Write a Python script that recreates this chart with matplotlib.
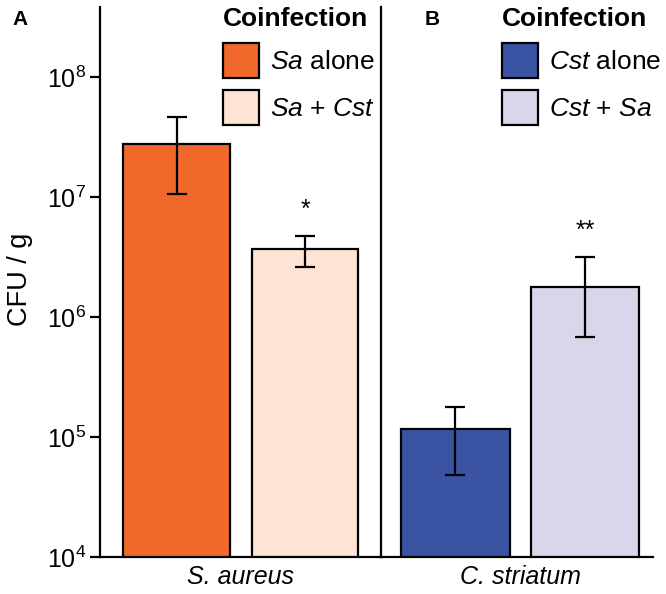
import matplotlib
matplotlib.use("Agg")
import matplotlib.pyplot as plt
import numpy as np

plt.rcParams['font.family'] = ['Liberation Sans', 'DejaVu Sans']
plt.rcParams['mathtext.fontset'] = 'custom'
plt.rcParams['mathtext.rm'] = 'Liberation Sans'
plt.rcParams['mathtext.it'] = 'Liberation Sans:italic'
plt.rcParams['mathtext.bf'] = 'Liberation Sans:bold'

# ---- data ----
panel_letters = ['A', 'B']
organisms = ['S. aureus', 'C. striatum']
legend_title = 'Coinfection'
sa_labels = [r'$\mathit{Sa}$ alone', r'$\mathit{Sa}$ + $\mathit{Cst}$']
cst_labels = [r'$\mathit{Cst}$ alone', r'$\mathit{Cst}$ + $\mathit{Sa}$']
sa_mean = np.array([2.76e7, 3.69e6])
sa_low = np.array([1.06e7, 2.60e6])
sa_high = np.array([4.60e7, 4.76e6])
cst_mean = np.array([1.17e5, 1.77e6])
cst_low = np.array([4.82e4, 6.86e5])
cst_high = np.array([1.79e5, 3.18e6])
sa_sig = ['', '*']
cst_sig = ['', '**']
ytick_vals = [1e4, 1e5, 1e6, 1e7, 1e8]

sa_colors = ['#F1692A', '#FDE4D5']
cst_colors = ['#3A53A3', '#D7D6EA']

W, H = 666, 594
fig = plt.figure(figsize=(W / 100, H / 100), dpi=100)
axA = fig.add_axes([100 / W, 37 / H, 281 / W, 550 / H])
axB = fig.add_axes([381 / W, 37 / H, 272 / W, 550 / H], sharey=axA)

def draw(ax, means, lo, hi, colors, labels, sig, org, xlim, width, leg_x):
    ax.set_yscale('log')
    x = np.arange(len(means))
    yerr = np.vstack([means - lo, hi - means])
    handles = []
    for i in range(len(means)):
        b = ax.bar(x[i], means[i], width=width, color=colors[i],
                   edgecolor='black', linewidth=1.6, zorder=2)
        handles.append(b[0])
    ax.errorbar(x, means, yerr=yerr, fmt='none', ecolor='black',
                elinewidth=1.6, capsize=7, capthick=1.6, zorder=3)
    for i in range(len(means)):
        if sig[i]:
            ax.annotate(sig[i], (x[i], hi[i]), xytext=(0, 10),
                        textcoords='offset points', ha='center', va='bottom',
                        fontsize=18)
    ax.set_xlim(*xlim)
    ax.set_xticks([0.5])
    ax.set_xticklabels([org], fontstyle='italic', fontsize=18)
    ax.tick_params(axis='x', length=0, pad=6)
    for s in ['top', 'right']:
        ax.spines[s].set_visible(False)
    for s in ['left', 'bottom']:
        ax.spines[s].set_linewidth(1.6)
    leg = ax.legend(handles, labels, title=legend_title,
                    loc='upper left', bbox_to_anchor=(leg_x / W, 1 - 7 / H),
                    bbox_transform=fig.transFigure, frameon=False,
                    fontsize=19, title_fontsize=19, borderpad=0,
                    handlelength=1.38, handleheight=1.66, labelspacing=0.45,
                    handletextpad=0.4, alignment='left', borderaxespad=0)
    leg.get_title().set_fontweight('bold')
    return ax

draw(axA, sa_mean, sa_low, sa_high, sa_colors, sa_labels, sa_sig, organisms[0],
     (-0.595, 1.59), 0.83, 223)
draw(axB, cst_mean, cst_low, cst_high, cst_colors, cst_labels, cst_sig, organisms[1],
     (-0.575, 1.525), 0.84, 502)

axA.set_ylim(1e4, 10 ** 8.583)
axA.set_yticks(ytick_vals)
axA.yaxis.set_minor_locator(matplotlib.ticker.NullLocator())
axA.tick_params(axis='y', which='major', length=7, width=1.6, labelsize=18, pad=3)
axB.tick_params(axis='y', which='both', length=0, labelleft=False)
axA.set_ylabel('CFU / g', fontsize=19.5, va='center')
axA.yaxis.set_label_coords(-0.285, 0.504)

fig.text(12 / W, 1 - 10 / H, panel_letters[0], fontsize=15, fontweight='bold', va='top', ha='left')
fig.text(425 / W, 1 - 10 / H, panel_letters[1], fontsize=15, fontweight='bold', va='top', ha='left')

fig.savefig('out.png', dpi=100)
